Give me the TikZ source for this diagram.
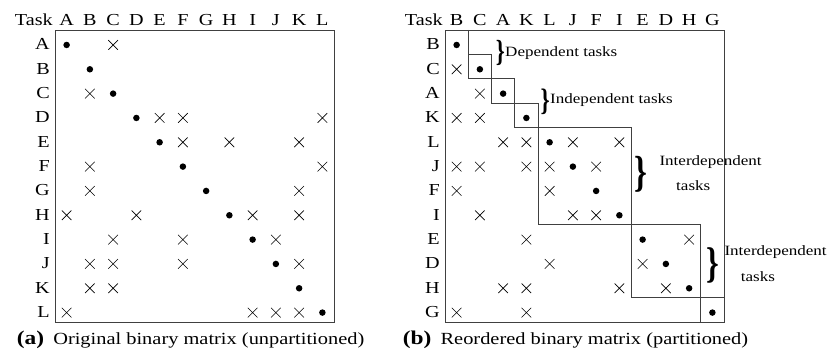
\documentclass[tikz,border=0pt]{standalone}
\usepackage{fontspec}
\setmainfont{Liberation Serif}[FakeStretch=1.2]
\newfontfamily\bracefont{Liberation Serif}[FakeStretch=0.75]
\usetikzlibrary{shapes.misc}

\tikzset{
  self/.style={circle, fill=black, inner sep=0pt, minimum size=6.5pt},
  dep/.style={cross out, draw=black, line width=.6pt, inner sep=0pt, minimum size=9pt},
  frame/.style={line width=.9pt, draw=black!75},
  lab/.style={font=\fontsize{16.8}{18}\selectfont, inner sep=0pt},
  note/.style={font=\fontsize{14.2}{16}\selectfont, inner sep=0pt, anchor=base west},
  brc/.style={inner sep=0pt, font=\bracefont\bfseries\fontsize{#1}{#1}\selectfont},
  capt/.style={font=\fontsize{17}{19}\selectfont, inner sep=0pt, anchor=base west},
}

\begin{document}
\begin{tikzpicture}[x=1pt, y=-1pt]
\useasboundingbox (0,0) rectangle (837,358);

% (a) original matrix
\begin{scope}[shift={(55pt,-30pt)}, x=23.25pt, y=-24.33pt]
\draw[frame] (0,0) rectangle (12,12);
\node (la-task) at (-.09,-.205)[lab, anchor=base east]{Task};
\foreach \c/\t in {1/A,2/B,3/C,4/D,5/E,6/F,7/G,8/H,9/I,10/J,11/K,12/L}{
  \node (la-col\c) at (\c-.5,-.205)[lab, anchor=base]{\t};
  \node (la-row\c) at (-.215,\c-.18)[lab, anchor=base east]{\t};
}
\foreach \r/\row in {1/{1/self,3/dep}, 2/{2/self}, 3/{2/dep,3/self},
    4/{4/self,5/dep,6/dep,12/dep}, 5/{5/self,6/dep,8/dep,11/dep},
    6/{2/dep,6/self,12/dep}, 7/{2/dep,7/self,11/dep},
    8/{1/dep,4/dep,8/self,9/dep,11/dep}, 9/{3/dep,6/dep,9/self,10/dep},
    10/{2/dep,3/dep,6/dep,10/self,11/dep}, 11/{2/dep,3/dep,11/self},
    12/{1/dep,9/dep,10/dep,11/dep,12/self}}
  \foreach \c/\m in \row
    \node (la-\r-\c) at (\c-.5,\r-.385)[\m]{};
\end{scope}

% (b) reordered matrix
\begin{scope}[shift={(445pt,-30pt)}, x=23.25pt, y=-24.33pt]
\draw[frame] (0,0) rectangle (12,12);
\node (lb-task) at (-.09,-.205)[lab, anchor=base east]{Task};
\foreach \c/\t in {1/B,2/C,3/A,4/K,5/L,6/J,7/F,8/I,9/E,10/D,11/H,12/G}{
  \node (lb-col\c) at (\c-.5,-.205)[lab, anchor=base]{\t};
  \node (lb-row\c) at (-.215,\c-.18)[lab, anchor=base east]{\t};
}
\foreach \r/\row in {1/{1/self}, 2/{1/dep,2/self}, 3/{2/dep,3/self},
    4/{1/dep,2/dep,4/self}, 5/{3/dep,4/dep,5/self,6/dep,8/dep},
    6/{1/dep,2/dep,4/dep,5/dep,6/self,7/dep}, 7/{1/dep,5/dep,7/self},
    8/{2/dep,6/dep,7/dep,8/self}, 9/{4/dep,9/self,11/dep},
    10/{5/dep,9/dep,10/self}, 11/{3/dep,4/dep,8/dep,10/dep,11/self},
    12/{1/dep,4/dep,12/self}}
  \foreach \c/\m in \row
    \node (lb-\r-\c) at (\c-.5,\r-.385)[\m]{};
% partitions
\draw[frame] (1,0) -- (1,1);
\draw[frame] (1,1) rectangle (2,2);
\draw[frame] (2,2) rectangle (3,3);
\draw[frame] (3,3) rectangle (4,4);
\draw[frame] (4,4) rectangle (8,8);
\draw[frame] (8,8) rectangle (11,11);
\draw[frame] (11,11) rectangle (12,12);
\end{scope}

% braces and notes
\node (br-dep) at (500.3,52.5)[brc=30.5]{\}};
\node (nt-dep) at (505,56.7)[note]{Dependent tasks};
\node (br-ind) at (545.3,101.5)[brc=31]{\}};
\node (nt-ind) at (550,104)[note]{Independent tasks};
\node (br-int1) at (641.3,173.9)[brc=43.5]{\}};
\node (nt-int1) at (659.3,165)[note]{Interdependent};
\node (nt-tsk1) at (676,190.7)[note]{tasks};
\node (br-int2) at (713,265.3)[brc=43]{\}};
\node (nt-int2) at (724.3,255)[note]{Interdependent};
\node (nt-tsk2) at (740.7,281.7)[note]{tasks};

% captions
\node (cap-a) at (16.7,344)[capt]{{\fontsize{19.5}{20}\selectfont\bfseries (a)}\hspace{4pt} Original binary matrix (unpartitioned)};
\node (cap-b) at (402.7,344)[capt]{{\fontsize{19.5}{20}\selectfont\bfseries (b)}\hspace{4pt} Reordered binary matrix (partitioned)};

\end{tikzpicture}
\end{document}
